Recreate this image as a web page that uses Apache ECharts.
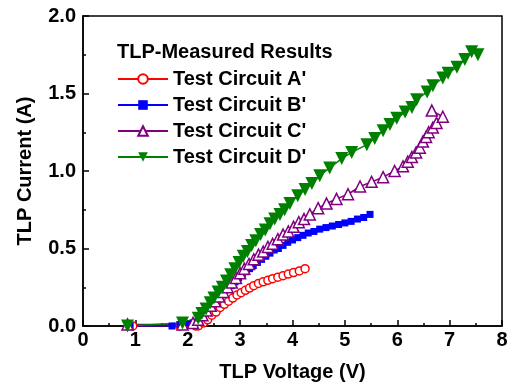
<!DOCTYPE html>
<html>
<head>
<meta charset="utf-8">
<script src="https://cdn.jsdelivr.net/npm/echarts@6/dist/echarts.min.js"></script>
<style>html,body{margin:0;padding:0;background:#fff;}#c{width:512px;height:387px;}</style>
</head>
<body>
<div id="c"></div>
<script>
var legendTitle = "TLP-Measured Results";
var seriesNames = ["Test Circuit A'", "Test Circuit B'", "Test Circuit C'", "Test Circuit D'"];
var xTicks = [0, 1, 2, 3, 4, 5, 6, 7, 8];
var yTicks = [0.0, 0.5, 1.0, 1.5, 2.0];

var aV = [0.95, 1.85, 2.15, 2.2, 2.3, 2.38, 2.46, 2.54, 2.62, 2.7, 2.78, 2.86, 2.94, 3.02, 3.1, 3.18, 3.26, 3.35, 3.44, 3.53, 3.62, 3.72, 3.82, 3.92, 4.02, 4.13, 4.24];
var aI = [0.0, 0.0, 0.0, 0.0, 0.02, 0.04, 0.07, 0.09, 0.12, 0.14, 0.16, 0.18, 0.2, 0.215, 0.23, 0.245, 0.26, 0.275, 0.285, 0.295, 0.305, 0.315, 0.325, 0.335, 0.345, 0.355, 0.37];

var bV = [0.9, 1.7, 1.85, 2.0, 2.1, 2.2, 2.27, 2.34, 2.41, 2.48, 2.55, 2.62, 2.69, 2.76, 2.83, 2.9, 2.97, 3.04, 3.11, 3.18, 3.25, 3.33, 3.41, 3.49, 3.57, 3.65, 3.73, 3.82, 3.91, 4.0, 4.1, 4.2, 4.3, 4.41, 4.52, 4.64, 4.76, 4.88, 5.0, 5.12, 5.24, 5.36, 5.48];
var bI = [0.0, 0.0, 0.01, 0.01, 0.02, 0.03, 0.06, 0.09, 0.12, 0.15, 0.17, 0.2, 0.22, 0.24, 0.26, 0.285, 0.31, 0.33, 0.35, 0.37, 0.39, 0.41, 0.43, 0.45, 0.47, 0.49, 0.5, 0.52, 0.54, 0.555, 0.57, 0.585, 0.6, 0.61, 0.625, 0.635, 0.645, 0.655, 0.665, 0.675, 0.69, 0.7, 0.72];

var cV = [0.85, 1.9, 2.1, 2.2, 2.28, 2.36, 2.44, 2.52, 2.6, 2.68, 2.76, 2.84, 2.92, 3.0, 3.08, 3.17, 3.26, 3.35, 3.44, 3.53, 3.62, 3.72, 3.82, 3.92, 4.02, 4.12, 4.22, 4.33, 4.49, 4.65, 4.84, 5.06, 5.29, 5.51, 5.73, 5.95, 6.11, 6.2, 6.28, 6.36, 6.43, 6.49, 6.55, 6.6, 6.68, 6.75, 6.87, 6.66];
var cI = [0.01, 0.01, 0.02, 0.04, 0.07, 0.1, 0.13, 0.16, 0.19, 0.22, 0.25, 0.28, 0.31, 0.34, 0.37, 0.4, 0.43, 0.46, 0.48, 0.51, 0.53, 0.56, 0.59, 0.61, 0.64, 0.67, 0.69, 0.72, 0.76, 0.79, 0.82, 0.85, 0.9, 0.93, 0.96, 1.0, 1.03, 1.06, 1.09, 1.12, 1.15, 1.19, 1.22, 1.25, 1.28, 1.31, 1.35, 1.39];

var dV = [0.85, 1.9, 2.2, 2.27, 2.35, 2.43, 2.5, 2.58, 2.66, 2.74, 2.82, 2.9, 2.98, 3.06, 3.14, 3.22, 3.3, 3.39, 3.48, 3.57, 3.66, 3.76, 3.85, 3.95, 4.1, 4.24, 4.37, 4.52, 4.71, 4.94, 5.13, 5.42, 5.57, 5.73, 5.86, 5.99, 6.15, 6.28, 6.37, 6.57, 6.68, 6.87, 6.97, 7.14, 7.29, 7.42, 7.54];
var dI = [0.0, 0.02, 0.05, 0.08, 0.11, 0.15, 0.18, 0.22, 0.25, 0.29, 0.33, 0.37, 0.41, 0.45, 0.48, 0.52, 0.55, 0.59, 0.62, 0.66, 0.69, 0.72, 0.75, 0.79, 0.84, 0.88, 0.92, 0.97, 1.02, 1.08, 1.12, 1.17, 1.21, 1.26, 1.3, 1.34, 1.38, 1.41, 1.46, 1.51, 1.55, 1.6, 1.63, 1.67, 1.72, 1.77, 1.75];

function pairs(xs, ys) { return xs.map(function (x, i) { return [x, ys[i]]; }); }

var FONT = 'Liberation Sans, Arial, sans-serif';
var chart = echarts.init(document.getElementById('c'), null, { renderer: 'canvas' });

function mk(name, xs, ys, color, symbol, size, open, rotate) {
  return {
    name: name, type: 'line', data: pairs(xs, ys),
    symbol: symbol, symbolSize: size, symbolRotate: rotate || 0,
    showAllSymbol: true, animation: false,
    lineStyle: { color: color, width: 1.5 },
    itemStyle: open ? { color: '#fff', borderColor: color, borderWidth: 1.5 } : { color: color, borderColor: color, borderWidth: 0 }
  };
}

chart.setOption({
  animation: false,
  backgroundColor: '#fff',
  grid: { left: 83, right: 10, top: 16, bottom: 59, show: true, borderColor: '#000', borderWidth: 1.5, backgroundColor: 'transparent' },
  title: {
    text: legendTitle, left: 112, top: 37,
    textStyle: { fontFamily: FONT, fontWeight: 'bold', fontSize: 20, color: '#000' }
  },
  legend: {
    orient: 'vertical', left: 112, top: 64, itemWidth: 50, itemHeight: 12, itemGap: 6,
    data: seriesNames,
    textStyle: { fontFamily: FONT, fontWeight: 'bold', fontSize: 20, color: '#000' }
  },
  xAxis: {
    type: 'value', min: xTicks[0], max: xTicks[xTicks.length - 1], interval: 1,
    name: 'TLP Voltage (V)', nameLocation: 'middle', nameGap: 36,
    nameTextStyle: { fontFamily: FONT, fontWeight: 'bold', fontSize: 20, color: '#000' },
    axisLine: { lineStyle: { color: '#000', width: 1.5 } },
    axisTick: { inside: true, length: 6, lineStyle: { color: '#000', width: 1.5 } },
    minorTick: { show: true, splitNumber: 2, length: 3, lineStyle: { color: '#000', width: 1.5 } },
    splitLine: { show: false },
    axisLabel: { fontFamily: FONT, fontWeight: 'bold', fontSize: 20, color: '#000', margin: 4 }
  },
  yAxis: {
    type: 'value', min: yTicks[0], max: yTicks[yTicks.length - 1], interval: 0.5,
    name: 'TLP Current (A)', nameLocation: 'middle', nameGap: 48,
    nameTextStyle: { fontFamily: FONT, fontWeight: 'bold', fontSize: 20, color: '#000' },
    axisLine: { lineStyle: { color: '#000', width: 1.5 } },
    axisTick: { inside: true, length: 6, lineStyle: { color: '#000', width: 1.5 } },
    minorTick: { show: true, splitNumber: 2, length: 3, lineStyle: { color: '#000', width: 1.5 } },
    splitLine: { show: false },
    axisLabel: { fontFamily: FONT, fontWeight: 'bold', fontSize: 20, color: '#000', margin: 7, formatter: function (v) { return v.toFixed(1); } }
  },
  series: [
    mk(seriesNames[0], aV, aI, '#ff0000', 'circle', 8, true),
    mk(seriesNames[1], bV, bI, '#0000ff', 'rect', 7, false),
    mk(seriesNames[2], cV, cI, '#800080', 'triangle', 11, true),
    mk(seriesNames[3], dV, dI, '#008000', 'triangle', 13, false, 180)
  ]
});
</script>
</body>
</html>
